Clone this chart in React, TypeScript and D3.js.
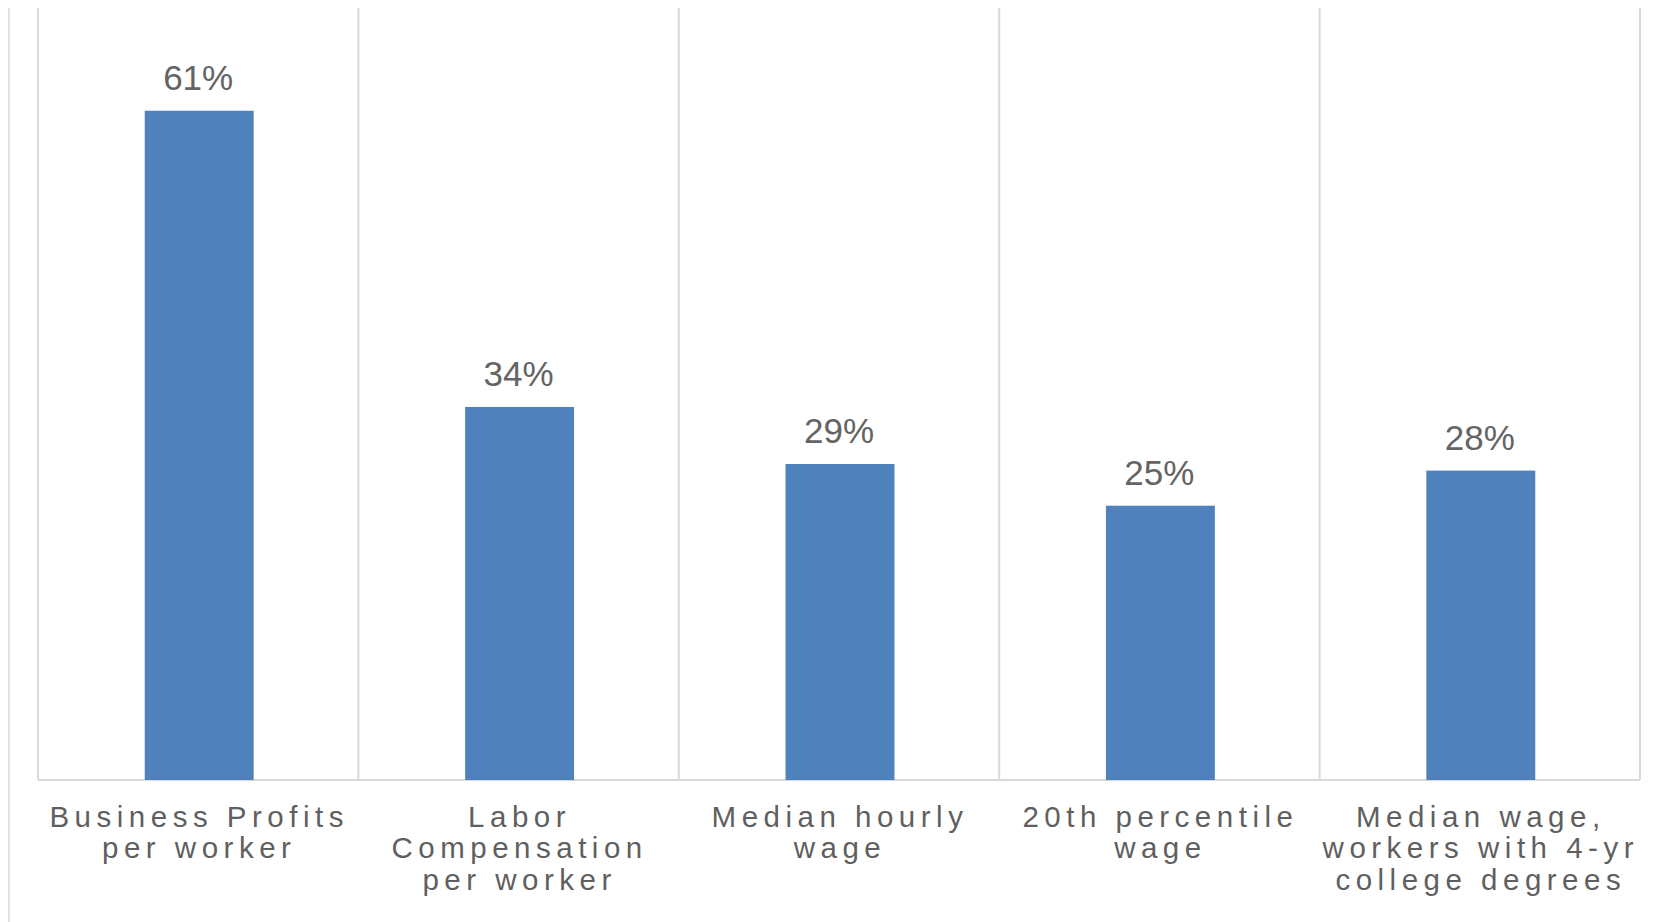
import React from "react";
import * as d3 from "d3";

const categories: string[][] = [
  ["Business Profits", "per worker"],
  ["Labor", "Compensation", "per worker"],
  ["Median hourly", "wage"],
  ["20th percentile", "wage"],
  ["Median wage,", "workers with 4-yr", "college degrees"],
];
const categoryKeys = ["profits", "labor", "median", "p20", "college"];
const values = [61, 34, 28.8, 25, 28.2];
const valueLabels = ["61%", "34%", "29%", "25%", "28%"];
const yDomain = [0, 70];

const W = 1653;
const H = 922;
const plotLeft = 38;
const plotRight = 1640;
const plotTop = 8;
const plotBottom = 780;
const yTop = 12;

export default function App() {
  const x = d3.scaleBand<string>().domain(categoryKeys).range([plotLeft, plotRight]).padding(0);
  const y = d3.scaleLinear().domain(yDomain).range([plotBottom, yTop]);
  const barW = x.bandwidth() * 0.34;
  const font = "'Liberation Sans', Arial, sans-serif";
  const boundaries = categoryKeys.map((k) => x(k) as number).concat([plotRight]);

  return (
    <svg
      width={W}
      height={H}
      style={{ position: "absolute", left: 0, top: 0, background: "#fff" }}
    >
      <line x1={9} x2={9} y1={8} y2={H} stroke="#E3E3E3" strokeWidth={2} />
      {boundaries.map((bx, i) => (
        <line key={i} x1={bx} x2={bx} y1={plotTop} y2={plotBottom} stroke="#D9D9D9" strokeWidth={2} />
      ))}
      <line x1={plotLeft} x2={plotRight} y1={plotBottom} y2={plotBottom} stroke="#D9D9D9" strokeWidth={2} />
      {categoryKeys.map((k, i) => {
        const cx = (x(k) as number) + x.bandwidth() / 2 + 1;
        return (
          <g key={k}>
            <rect x={cx - barW / 2} y={y(values[i])} width={barW} height={plotBottom - y(values[i])} fill="#4F81BD" />
            <text
              x={cx - 1}
              y={y(values[i]) - 21}
              textAnchor="middle"
              fontFamily={font}
              fontSize={35}
              fill="#646464"
            >
              {valueLabels[i]}
            </text>
            {categories[i].map((line, j) => (
              <text
                key={j}
                x={cx}
                y={826.7 + j * 31.6}
                textAnchor="middle"
                fontFamily={font}
                fontSize={29.5}
                letterSpacing={5.5}
                fill="#5F5F5F"
              >
                {line}
              </text>
            ))}
          </g>
        );
      })}
    </svg>
  );
}
